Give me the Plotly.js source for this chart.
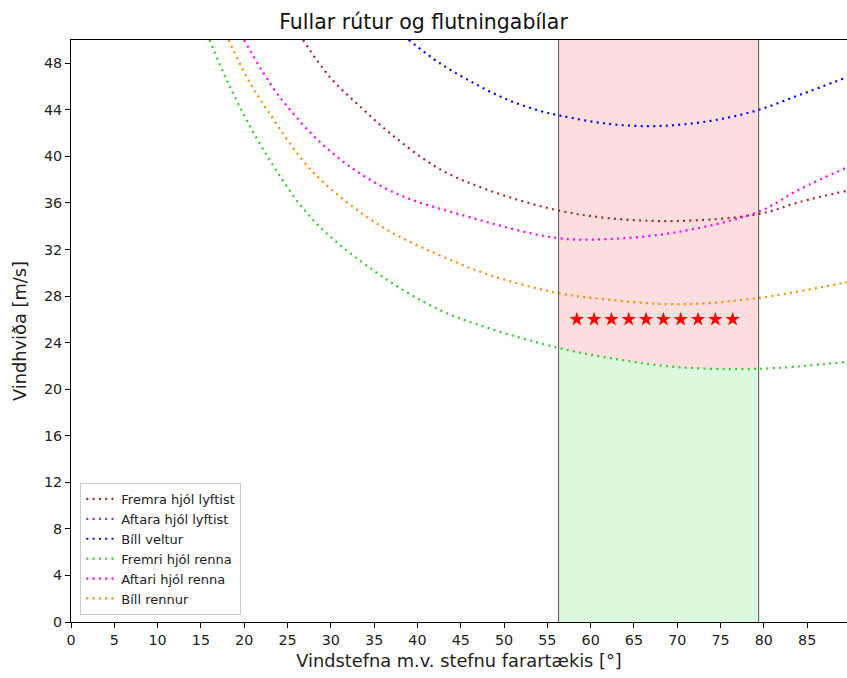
<!DOCTYPE html>
<html>
<head>
<meta charset="utf-8">
<script src="https://cdn.plot.ly/plotly-3.0.1.min.js"></script>
<style>html,body{margin:0;padding:0;background:#fff;}#chart{width:847px;height:678px;}</style>
</head>
<body>
<div id="chart"></div>
<script>
// ---- data ----
const chartTitle = "Fullar rútur og flutningabílar";
const xTitle = "Vindstefna m.v. stefnu farartækis [°]";
const yTitle = "Vindhviða [m/s]";

const names = ["Fremra hjól lyftist", "Aftara hjól lyftist", "Bíll veltur",
               "Fremri hjól renna", "Aftari hjól renna", "Bíll rennur"];

const frontLiftX = [26.8, 29.9, 33.5, 37.4, 42.6, 48.4, 56, 62, 70, 79.4, 84.2, 89.6];
const frontLiftY = [50, 46.8, 44.2, 41.65, 38.9, 37.05, 35.4, 34.7, 34.45, 35.05, 36.1, 37.05];

const rearLiftX = [60, 70, 80];          // lies above the visible range
const rearLiftY = [55, 54, 55];

const overturnX = [39.0, 42.6, 46.5, 50.3, 54.2, 56.5, 62, 66.9, 70.7, 75, 79.4, 84.2, 89.6];
const overturnY = [50, 48.0, 46.3, 44.9, 43.9, 43.5, 42.8, 42.6, 42.75, 43.2, 44.0, 45.3, 46.8];

const frontSlideX = [16.0, 18.4, 22.6, 28, 35.7, 42.6, 48.4, 56.3, 62, 70, 79.4, 89.6];
const frontSlideY = [50, 45.9, 40.1, 34.5, 29.8, 26.8, 25.2, 23.55, 22.7, 21.9, 21.75, 22.35];

const rearSlideX = [20.0, 24, 30, 37, 45, 56, 62, 70, 79.4, 84.2, 89.6];
const rearSlideY = [50, 45.2, 40.4, 37.0, 35.0, 33.0, 32.9, 33.5, 35.25, 37.2, 39.05];

const slideX = [18.2, 20.3, 22.6, 28, 35.7, 42.6, 48.4, 56, 62, 70, 79, 89.6];
const slideY = [50, 46.8, 44.05, 38.6, 34.05, 31.5, 29.8, 28.3, 27.7, 27.3, 27.8, 29.2];

const starX = [58.4, 60.4, 62.4, 64.4, 66.4, 68.4, 70.4, 72.4, 74.4, 76.4];
const starY = [26, 26, 26, 26, 26, 26, 26, 26, 26, 26];

const zoneStart = 56.3;
const zoneEnd = 79.4;
const xMax = 89.6;
const yMax = 50;

const colors = ["#a52a2a", "#8a2be2", "#0000ff", "#32cd32", "#ff00ff", "#ff8c00"];

// ---- build ----
const FONT = "DejaVu Sans, sans-serif";
const dotted = "2px,4.3px";

// green fill under the "Fremri hjól renna" curve inside the zone
const fillX = [], fillY = [];
frontSlideX.forEach((x, i) => { if (x >= zoneStart && x <= zoneEnd) { fillX.push(x); fillY.push(frontSlideY[i]); } });

const traces = [
  {x: fillX, y: fillY, type: "scatter", mode: "none", fill: "tozeroy",
   fillcolor: "#dcf9e0", line: {shape: "spline"}, showlegend: false, hoverinfo: "skip"},
];
const series = [[frontLiftX, frontLiftY], [rearLiftX, rearLiftY], [overturnX, overturnY],
                [frontSlideX, frontSlideY], [rearSlideX, rearSlideY], [slideX, slideY]];
series.forEach((s, i) => {
  traces.push({x: s[0], y: s[1], type: "scatter", mode: "lines", name: names[i],
    line: {color: colors[i], width: 2.2, dash: dotted, shape: "spline", smoothing: 1}});
});
traces.push({x: starX, y: starY, type: "scatter", mode: "markers", showlegend: false,
  marker: {symbol: "star", color: "red", size: 11, line: {width: 0}}});

const layout = {
  width: 847, height: 678,
  margin: {l: 71, r: 0, t: 40, b: 56},
  paper_bgcolor: "#fff", plot_bgcolor: "#fff",
  font: {family: FONT, color: "#222", size: 14},
  title: {text: chartTitle, font: {family: FONT, size: 20.5, color: "#111"}, x: 0.5, xanchor: "center", y: 0.968, yanchor: "middle"},
  showlegend: true,
  legend: {x: 0.012, y: 0.012, xanchor: "left", yanchor: "bottom",
    bgcolor: "rgba(255,255,255,0.85)", bordercolor: "#cccccc", borderwidth: 1,
    font: {family: FONT, size: 13, color: "#222"}},
  xaxis: {range: [0, xMax], tickmode: "linear", tick0: 0, dtick: 5,
    showgrid: false, zeroline: false, showline: true, linecolor: "#000", linewidth: 1, mirror: true,
    ticks: "outside", ticklen: 5, tickcolor: "#000", tickfont: {size: 14.3, color: "#222"},
    title: {text: xTitle, font: {size: 17.8, color: "#222"}, standoff: 7}},
  yaxis: {range: [0, yMax], tickmode: "linear", tick0: 0, dtick: 4,
    showgrid: false, zeroline: false, showline: true, linecolor: "#000", linewidth: 1, mirror: false,
    ticks: "outside", ticklen: 5, tickcolor: "#000", tickfont: {size: 14.3, color: "#222"},
    title: {text: yTitle, font: {size: 17.8, color: "#222"}, standoff: 12}},
  shapes: [
    {type: "rect", xref: "x", yref: "y", x0: zoneStart, x1: zoneEnd, y0: 0, y1: yMax,
     fillcolor: "#fddede", line: {width: 0}, layer: "below"},
    {type: "line", xref: "x", yref: "y", x0: zoneStart, x1: zoneStart, y0: 0, y1: yMax,
     line: {color: "#555", width: 1}},
    {type: "line", xref: "x", yref: "y", x0: zoneEnd, x1: zoneEnd, y0: 0, y1: yMax,
     line: {color: "#555", width: 1}}
  ]
};

Plotly.newPlot("chart", traces, layout, {displayModeBar: false, staticPlot: true});
</script>
</body>
</html>
